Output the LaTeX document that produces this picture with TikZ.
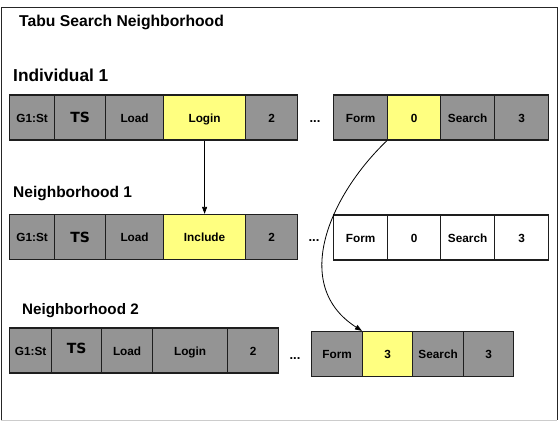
\documentclass[tikz,border=0pt]{standalone}
\usepackage{fontspec}
\setmainfont{Liberation Sans}
\newfontfamily\tsfont{DejaVu Sans}
\usetikzlibrary{arrows.meta}
\definecolor{cgray}{RGB}{148,148,148}
\definecolor{cyel}{RGB}{255,255,128}
\definecolor{cline}{RGB}{30,30,30}
\tikzset{
  cell/.style={draw=cline, line width=1.2pt, minimum width=#1, minimum height=45pt, inner sep=0pt, text height=9.4pt, text depth=0pt, anchor=west, font=\bfseries\fontsize{11.8}{13}\selectfont},
  gcell/.style={cell=#1, fill=cgray},
  ycell/.style={cell=#1, fill=cyel},
  wcell/.style={cell=#1, fill=white},
  tscell/.style={cell=#1, fill=cgray, text height=10.4pt, font=\tsfont\bfseries\fontsize{14}{16}\selectfont},
  heading/.style={anchor=base west, inner sep=0pt, font=\bfseries\fontsize{#1}{#1}\selectfont},
  dots/.style={anchor=base, inner sep=0pt, font=\bfseries\fontsize{13}{15}\selectfont},
  conn/.style={line width=0.8pt, -{Triangle[length=7pt,width=5pt]}}
}
\begin{document}
\begin{tikzpicture}[x=1pt,y=-1pt]
\useasboundingbox (0,0) rectangle (559,421);
% frame
\draw[line width=1pt, black!85] (1,420) -- (1,7.5) -- (557,7.5) -- (557,420);
\draw[line width=1pt, black!20] (1,420) -- (557,420);
% headings
\node[heading=15.7] (title) at (19,26.7) {Tabu Search Neighborhood};
\node[heading=17.3] (ind) at (13,81.7) {Individual 1};
\node[heading=15.5] (nb1) at (13,197.3) {Neighborhood 1};
\node[heading=15.2] (nb2) at (22,314.3) {Neighborhood 2};
% row 1
\node[gcell=45] (a1) at (9,117.5) {G1:St};
\node[tscell=51] (a2) at (54,117.5) {TS};
\node[gcell=58] (a3) at (105,117.5) {Load};
\node[ycell=82] (a4) at (163,117.5) {Login};
\node[gcell=52] (a5) at (245,117.5) {2};
\node[dots] (ad) at (315,122) {...};
\node[gcell=54] (a6) at (333,117.5) {Form};
\node[ycell=53] (a7) at (387,117.5) {0};
\node[gcell=54] (a8) at (440,117.5) {Search};
\node[gcell=54] (a9) at (494,117.5) {3};
% row 2
\node[gcell=45] (b1) at (9,237) {G1:St};
\node[tscell=51] (b2) at (54,237) {TS};
\node[gcell=58] (b3) at (105,237) {Load};
\node[ycell=82] (b4) at (163,237) {Include};
\node[gcell=52] (b5) at (245,237) {2};
\node[dots] (bd) at (314,241.5) {...};
\node[wcell=54] (b6) at (333,237.5) {Form};
\node[wcell=53] (b7) at (387,237.5) {0};
\node[wcell=54] (b8) at (440,237.5) {Search};
\node[wcell=54] (b9) at (494,237.5) {3};
% row 3
\node[gcell=42] (c1) at (9,350.5) {G1:St};
\node[tscell=50] (c2) at (51,350.5) {\raisebox{2.5pt}{TS}};
\node[gcell=51] (c3) at (101,350.5) {Load};
\node[gcell=75] (c4) at (152,350.5) {Login};
\node[gcell=51] (c5) at (227,350.5) {2};
\node[dots] (cd) at (295,359) {...};
\node[gcell=51] (c6) at (311,354) {Form};
\node[ycell=50] (c7) at (362,354) {3};
\node[gcell=51] (c8) at (412,354) {Search};
\node[gcell=50] (c9) at (463,354) {3};
% connectors
\draw[conn] (a4.south) -- (b4.north);
\draw[conn] (a7.south west) .. controls (330,195) and (290,285) .. (c7.north west);
\end{tikzpicture}
\end{document}
